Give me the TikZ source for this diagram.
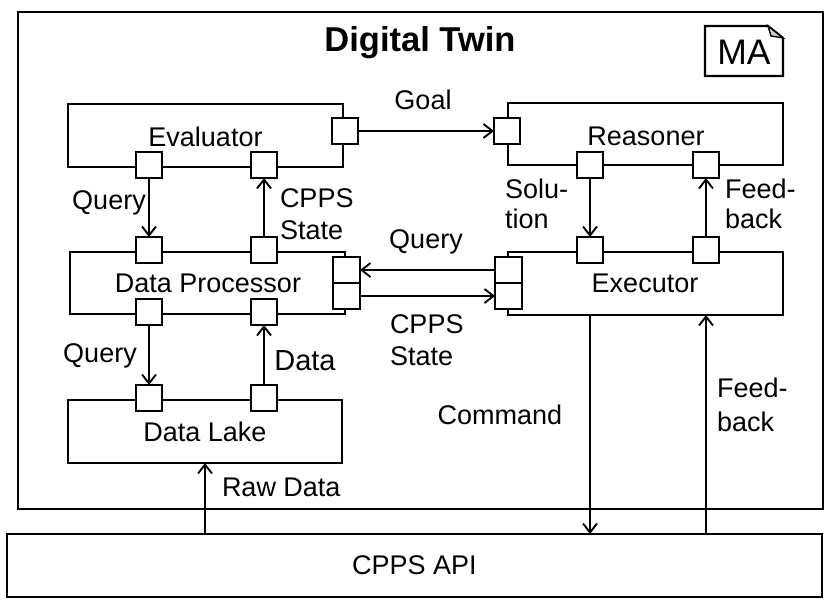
\documentclass[tikz,border=0pt]{standalone}
\usepackage{fontspec}
\setmainfont{Liberation Sans}
\usetikzlibrary{arrows.meta,calc}
\begin{document}
\begin{tikzpicture}[x=1pt,y=-1pt,
  every node/.style={inner sep=0pt,outer sep=0pt},
  txt/.style={font=\fontsize{27}{32}\selectfont,align=left},
  comp/.style={draw,line width=2.3pt,rectangle,fill=white},
  port/.style={draw,line width=2.3pt,fill=white,minimum width=26pt,minimum height=26pt},
  dport/.style={draw,line width=2.1pt,fill=white,minimum width=27pt,minimum height=26pt},
  conn/.style={line width=1.9pt,-{Straight Barb[length=9pt,width=14pt,line width=1.9pt]}},
  plain/.style={line width=1.9pt}]
\useasboundingbox (0,0) rectangle (830,607);
% outer boxes
\node[draw,line width=2.6pt,minimum width=805pt,minimum height=497pt] (dt) at (420.5,260.5) {};
\node[draw,line width=2.6pt,minimum width=815pt,minimum height=63pt,font=\fontsize{27}{32}\selectfont] (api) at (414.5,565.5) {CPPS API};
\node[font=\bfseries\fontsize{34.5}{40}\selectfont] (title) at (420,43) {Digital Twin};
% MA note
\draw[line width=2.2pt,fill=white] (705,26) -- (768,26) -- (783,38) -- (783,76) -- (705,76) -- cycle;
\draw[line width=1.4pt,fill=black!20] (768,26) -- (771,36) -- (783,38) -- cycle;
\node[font=\fontsize{35.5}{40}\selectfont] (ma) at (744,52) {MA};
% components
\node[comp,minimum width=275pt,minimum height=63pt] (ev) at (205.5,135.5) {};
\node[txt] (evl) at (205.5,137) {Evaluator};
\node[comp,minimum width=275pt,minimum height=62pt] (dp) at (207.5,283) {};
\node[txt] (dpl) at (208,283) {Data Processor};
\node[comp,minimum width=274pt,minimum height=63pt] (dl) at (205,431.5) {};
\node[txt] (dll) at (205,432) {Data Lake};
\node[comp,minimum width=275pt,minimum height=62pt] (rs) at (645.5,134) {};
\node[txt] (rsl) at (646,136) {Reasoner};
\node[comp,minimum width=275pt,minimum height=63pt] (ex) at (645.5,283.5) {};
\node[txt] (exl) at (645,283) {Executor};
% ports
\node[port] (e1) at (149,165) {};
\node[port] (e2) at (264,165) {};
\node[port] (eR) at (345,131) {};
\node[port] (p1) at (149,250) {};
\node[port] (p2) at (264,250) {};
\node[port] (p3) at (149,312) {};
\node[port] (p4) at (264,312) {};
\node[dport] (pR1) at (346.5,270) {};
\node[dport] (pR2) at (346.5,296) {};
\node[port] (l1) at (149,398) {};
\node[port] (l2) at (264,398) {};
\node[port] (rL) at (507,131) {};
\node[port] (r1) at (590,165) {};
\node[port] (r2) at (706,165) {};
\node[port] (x1) at (590,250) {};
\node[port] (x2) at (706,250) {};
\node[dport] (xL1) at (508.5,270) {};
\node[dport] (xL2) at (508.5,296) {};
% connectors
\draw[conn] (eR.east) -- (rL.west);
\draw[conn] (e1.south) -- (p1.north);
\draw[conn] (p2.north) -- (e2.south);
\draw[conn] (xL1.west) -- (pR1.east);
\draw[conn] (pR2.east) -- (xL2.west);
\draw[conn] (p3.south) -- (l1.north);
\draw[conn] (l2.north) -- (p4.south);
\draw[conn] (api.north -| dl.south) -- (dl.south);
\draw[conn] (r1.south) -- (x1.north);
\draw[conn] (x2.north) -- (r2.south);
\coordinate (cmdS) at (ex.south -| x1);
\coordinate (cmdE) at (api.north -| x1);
\coordinate (fbS) at (api.north -| x2);
\coordinate (fbE) at (ex.south -| x2);
\draw[conn] (cmdS) -- (cmdE);
\draw[conn] (fbS) -- (fbE);
% labels
\node[txt] (lgoal) at (423,100) {Goal};
\node[txt] (lq1) at (109,203) {Query};
\node[txt,anchor=west] (lcs1) at (280,214) {CPPS\\State};
\node[txt] (lq2) at (426,242) {Query};
\node[txt,anchor=west] (lcs2) at (390,340) {CPPS\\State};
\node[txt] (lq3) at (100,356) {Query};
\node[font=\fontsize{29}{34}\selectfont] (ldata) at (305,361) {Data};
\node[txt,anchor=west] (lraw) at (222,487) {Raw Data};
\node[font=\fontsize{27}{30}\selectfont,align=left,anchor=west] (lsol) at (505,204) {Solu-\\tion};
\node[font=\fontsize{27}{30}\selectfont,align=left,anchor=west] (lfb1) at (725,204) {Feed-\\back};
\node[txt] (lcmd) at (500,415) {Command};
\node[font=\fontsize{27}{34}\selectfont,align=left,anchor=west] (lfb2) at (717,405) {Feed-\\back};
\end{tikzpicture}
\end{document}
